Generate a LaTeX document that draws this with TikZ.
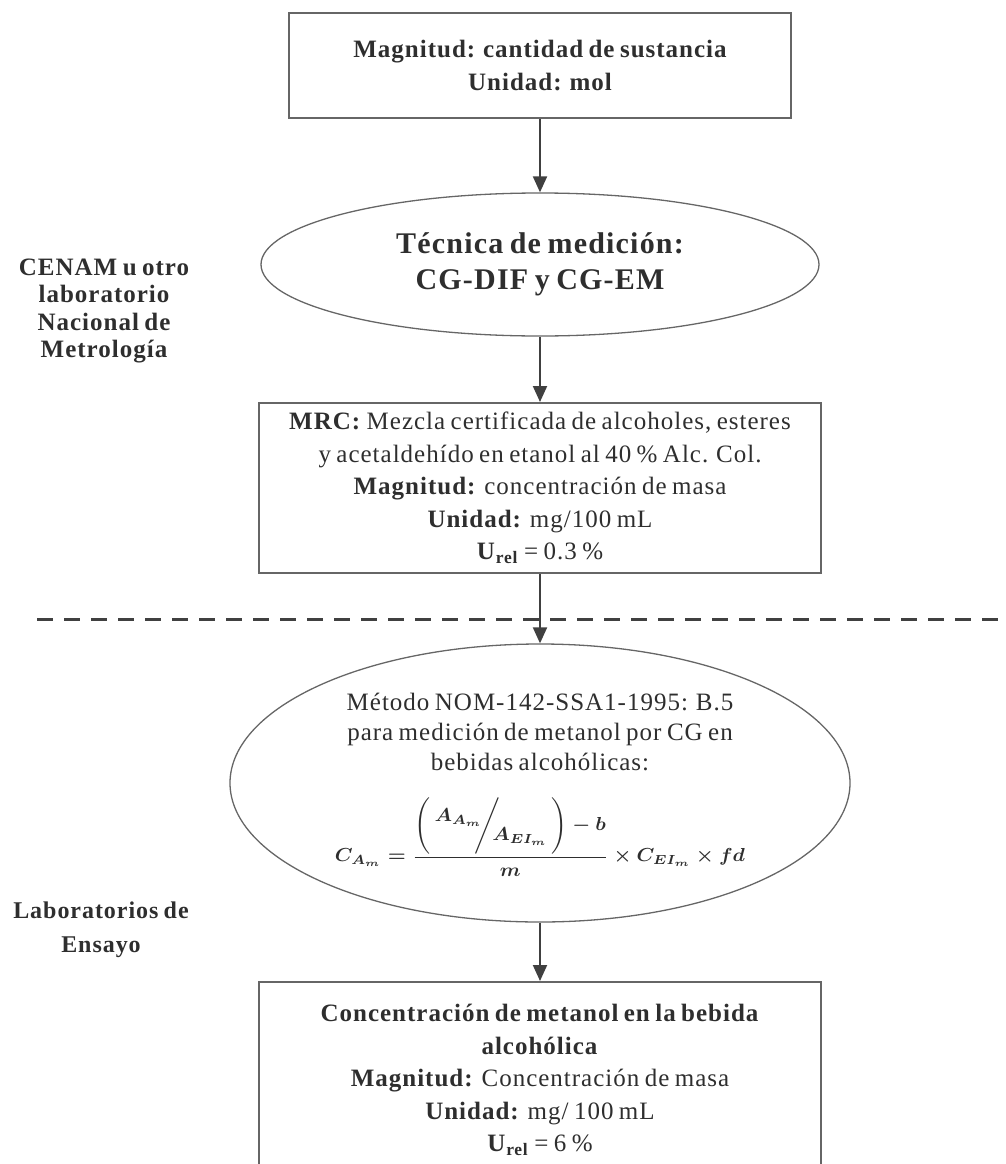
\documentclass[tikz,border=0pt]{standalone}
\usepackage{amsmath,bm,graphicx}
\usepackage{fontspec}
\setmainfont{Liberation Serif}[LetterSpace=4,WordSpace=0.75]
\usetikzlibrary{shapes.geometric,arrows.meta}
\definecolor{txt}{HTML}{2E2E2E}
\definecolor{edge}{HTML}{666666}
\definecolor{arr}{HTML}{404040}
\begin{document}
\begin{tikzpicture}[x=1pt,y=-1pt,
  every node/.style={text=txt, align=center, inner sep=0pt},
  boxnode/.style={draw=edge, line width=2pt, rectangle, font=\fontsize{25}{32.5}\selectfont},
  ellnode/.style={draw=edge, line width=1.3pt, ellipse},
  flow/.style={draw=arr, line width=2pt, -{Triangle[width=14pt,length=16pt]}},
  sidelabel/.style={font=\bfseries\fontsize{25}{27.5}\selectfont},
  sepline/.style={draw=arr, line width=3pt, dash pattern=on 16pt off 11pt}]
\useasboundingbox (0,0) rectangle (1006,1164);

% separator
\coordinate (sepL) at (37,619);
\coordinate (sepR) at (1012,619);
\draw[sepline] (sepL) -- (sepR);

% nodes
\node[boxnode, minimum width=502pt, minimum height=105pt, font=\bfseries\fontsize{25}{33}\selectfont] (top) at (540,65.5)
  {Magnitud: cantidad de sustancia\\Unidad: mol};

\node[ellnode, minimum width=558pt, minimum height=143pt, font=\bfseries\fontsize{30}{36}\selectfont] (ell1) at (540,264.5)
  {Técnica de medición:\\CG-DIF y CG-EM};

\node[boxnode, minimum width=562pt, minimum height=170pt] (mrc) at (540,488)
  {\textbf{MRC:} Mezcla certificada de alcoholes, esteres\\
   y acetaldehído en etanol al 40 \% Alc. Col.\\
   \textbf{Magnitud:} concentración de masa\\
   \textbf{Unidad:} mg/100 mL\\
   \textbf{U}\textsubscript{\textbf{rel}} = 0.3 \%};

\node[ellnode, minimum width=620pt, minimum height=278pt] (ell2) at (540,783) {};
\node[anchor=north, font=\fontsize{25}{30}\selectfont] (ell2txt) at (540,693)
  {Método NOM-142-SSA1-1995: B.5\\
   para medición de metanol por CG en\\
   bebidas alcohólicas:};
\node (ell2frm) at (540,837)
  {\resizebox*{410pt}{78pt}{\boldmath$\displaystyle C_{A_m} = \frac{\left(\,\raisebox{1.1ex}{$A_{A_m}$}\!\!\Bigg/\!\!\raisebox{-1.1ex}{$A_{EI_m}$}\,\right) - b}{m} \times C_{EI_m} \times fd$}};

\node[boxnode, minimum width=562pt, minimum height=196pt] (box3) at (540,1080)
  {\textbf{Concentración de metanol en la bebida}\\
   \textbf{alcohólica}\\
   \textbf{Magnitud:} Concentración de masa\\
   \textbf{Unidad:} mg/ 100 mL\\
   \textbf{U}\textsubscript{\textbf{rel}} = 6 \%};

\node[sidelabel] (lab1) at (104,311) {CENAM u otro\\laboratorio\\Nacional de\\Metrología};
\node[sidelabel, font=\bfseries\fontsize{24}{34}\selectfont] (lab2) at (101,930) {Laboratorios de\\Ensayo};

% connectors
\draw[flow] (top.south) -- (ell1.north);
\draw[flow] (ell1.south) -- (mrc.north);
\draw[flow] (mrc.south) -- (ell2.north);
\draw[flow] (ell2.south) -- (box3.north);
\end{tikzpicture}
\end{document}
